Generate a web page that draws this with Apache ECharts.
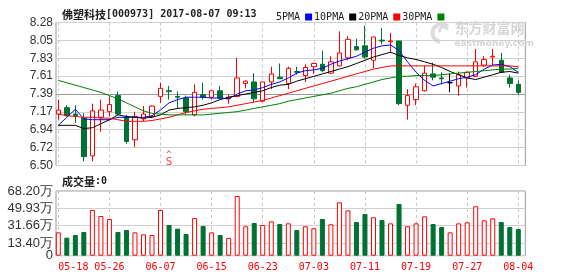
<!DOCTYPE html>
<html><head><meta charset="utf-8">
<script src="https://cdn.jsdelivr.net/npm/echarts@6/dist/echarts.min.js"></script>
<style>html,body{margin:0;padding:0;background:#fff}#c{width:578px;height:276px}</style>
</head><body><div id="c"></div>
<script>
// ---------------- data ----------------
const titleName = '佛塑科技';
const titleInfo = '[000973] 2017-08-07 09:13';
const volTitleName = '成交量';
const volTitleInfo = ':0';
const maNames = ['5PMA', '10PMA', '20PMA', '30PMA'];
const watermarkCn = '东方财富网';
const watermarkEn = 'eastmoney.com';

const dates = ['05-18','05-19','05-22','05-23','05-24','05-25','05-26','05-31','06-01','06-02',
  '06-05','06-06','06-07','06-08','06-09','06-12','06-13','06-14','06-15','06-16',
  '06-19','06-20','06-21','06-22','06-23','06-26','06-27','06-28','06-29','06-30',
  '07-03','07-04','07-05','07-06','07-07','07-10','07-11','07-12','07-13','07-14',
  '07-17','07-18','07-19','07-20','07-21','07-24','07-25','07-26','07-27','07-28',
  '07-31','08-01','08-02','08-03','08-04'];

const openArr = [7.14,7.22,7.14,7.09,6.62,7.10,7.17,7.37,7.10,6.82,
  7.08,7.11,7.36,7.43,7.36,7.34,7.13,7.38,7.35,7.43,
  7.33,7.36,7.52,7.54,7.30,7.54,7.60,7.52,7.67,7.62,
  7.73,7.76,7.65,7.74,7.84,7.98,7.99,7.81,8.06,8.04,
  8.05,7.25,7.32,7.43,7.64,7.59,7.53,7.49,7.59,7.61,
  7.75,7.85,7.81,7.59,7.51];
const closeArr = [7.19,7.12,7.12,6.61,7.18,7.19,7.26,7.14,6.80,7.11,
  7.14,7.24,7.46,7.42,7.35,7.17,7.41,7.35,7.43,7.34,
  7.35,7.59,7.55,7.33,7.54,7.64,7.58,7.71,7.66,7.72,
  7.77,7.68,7.79,7.90,8.07,7.94,7.85,8.10,8.05,8.05,
  7.27,7.37,7.48,7.65,7.60,7.58,7.53,7.63,7.66,7.79,
  7.82,7.86,7.66,7.52,7.41];
const lowArr = [7.07,7.11,7.03,6.55,6.55,6.92,7.11,7.13,6.77,6.73,
  7.05,7.09,7.28,7.32,7.21,7.13,7.11,7.32,7.32,7.32,
  7.27,7.35,7.46,7.29,7.29,7.45,7.58,7.45,7.63,7.54,
  7.64,7.66,7.64,7.73,7.81,7.93,7.83,7.71,8.01,7.90,
  7.25,7.07,7.25,7.42,7.56,7.51,7.41,7.37,7.47,7.60,
  7.73,7.75,7.65,7.47,7.38];
const highArr = [7.32,7.25,7.25,7.15,7.27,7.32,7.36,7.42,7.13,7.17,
  7.24,7.25,7.53,7.49,7.42,7.37,7.51,7.53,7.43,7.49,
  7.38,7.84,7.56,7.65,7.54,7.73,7.77,7.73,7.73,7.76,
  7.78,7.93,7.86,8.17,8.11,8.08,8.24,8.10,8.21,8.15,
  8.05,7.45,7.52,7.74,7.78,7.66,7.65,7.67,7.67,7.95,
  7.86,7.95,7.90,7.63,7.56];

// volume, unit 万
const volume = [24.6,19.0,21.8,25.0,48.2,41.8,38.7,25.0,27.1,24.6,
  22.5,21.8,48.2,32.4,28.5,22.9,39.7,31.3,24.6,21.8,
  18.7,62.9,31.0,34.5,32.4,36.2,33.4,34.1,27.1,31.0,
  28.9,38.7,33.1,56.3,47.8,35.5,44.0,40.5,37.6,34.1,
  54.5,31.0,34.1,41.5,33.4,30.2,24.6,34.1,35.2,52.1,
  37.3,39.4,35.5,30.2,28.1];

const ma5 = [7.00,7.10,7.20,7.08,7.07,7.07,7.07,7.10,7.10,7.10,
  7.10,7.12,7.19,7.28,7.32,7.35,7.35,7.35,7.34,7.34,
  7.33,7.39,7.43,7.44,7.47,7.51,7.54,7.59,7.65,7.68,
  7.69,7.71,7.76,7.80,7.83,7.86,7.91,7.96,7.99,8.00,
  7.93,7.79,7.66,7.56,7.49,7.52,7.55,7.58,7.60,7.63,
  7.70,7.75,7.76,7.73,7.66];
const ma10 = [7.00,7.00,7.00,6.96,6.97,7.02,7.07,7.13,7.11,7.10,
  7.09,7.10,7.13,7.19,7.21,7.22,7.23,7.25,7.28,7.32,
  7.35,7.37,7.39,7.41,7.43,7.47,7.50,7.51,7.55,7.58,
  7.61,7.64,7.67,7.70,7.73,7.77,7.81,7.85,7.88,7.91,
  7.87,7.84,7.82,7.79,7.76,7.72,7.67,7.63,7.59,7.57,
  7.60,7.63,7.66,7.67,7.65];
const ma20 = [7.14,7.12,7.11,7.10,7.10,7.09,7.09,7.07,7.05,7.05,
  7.05,7.06,7.08,7.10,7.13,7.16,7.18,7.20,7.21,7.22,
  7.23,7.25,7.27,7.29,7.31,7.34,7.37,7.40,7.43,7.46,
  7.49,7.52,7.55,7.58,7.61,7.64,7.67,7.70,7.72,7.74,
  7.74,7.74,7.74,7.74,7.74,7.74,7.74,7.74,7.74,7.74,
  7.74,7.74,7.74,7.74,7.73];
const ma30 = [7.56,7.53,7.50,7.47,7.44,7.41,7.37,7.33,7.28,7.23,
  7.18,7.15,7.14,7.13,7.13,7.13,7.13,7.13,7.14,7.15,
  7.16,7.17,7.19,7.21,7.23,7.25,7.27,7.30,7.32,7.34,
  7.36,7.38,7.40,7.43,7.46,7.48,7.51,7.54,7.57,7.59,
  7.61,7.61,7.62,7.62,7.62,7.63,7.64,7.65,7.66,7.67,
  7.68,7.69,7.70,7.70,7.71];

const priceMin = 6.50, priceMax = 8.28;
const priceTickLabels = ['6.50','6.72','6.94','7.17','7.39','7.61','7.83','8.05','8.28'];
const volMax = 68.20;
const volTickValues = [0, 13.40, 31.66, 49.93, 68.20];
const volTickLabels = ['0', '13.40万', '31.66万', '49.93万', '68.20万'];
const signalPoints = [[13, 6.575]];
const signalText = 'S';

// ---------------- style ----------------
const RED = '#ff0000', GREEN = '#007033';
const MA_COLORS = ['#0000ff', '#000000', '#ff0000', '#008000'];
const MONO = 'DejaVu Sans Mono';
const CJK = 'Noto Sans CJK SC';
const priceInterval = (priceMax - priceMin) / (priceTickLabels.length - 1);

const frameL = 56, frameW = 469.3;
const plotL = 58.3, plotW = 460;
const pTop = 22.5, pH = 143;
const vTop = 191, vH = 64.7;

const splitColors = priceTickLabels.map((t) => t === '7.39' ? '#999' : '#d0d0d0');

const chart = echarts.init(document.getElementById('c'), null, {renderer: 'canvas'});
const maSeries = [ma5, ma10, ma20, ma30].map((arr, k) => ({
  type: 'line', name: maNames[k], xAxisIndex: 1, yAxisIndex: 1,
  data: arr, symbol: 'none', z: 4, silent: true,
  itemStyle: {color: MA_COLORS[k]},
  lineStyle: {color: MA_COLORS[k], width: 1}
}));

const watermark = {
  id: 'wm', type: 'group', left: 430, top: 21, z: 0, silent: true,
  children: [
    {type: 'arc', shape: {cx: 11, cy: 12, r: 9, startAngle: Math.PI * 0.55, endAngle: Math.PI * 1.75},
     style: {stroke: '#dcdcdc', lineWidth: 4, fill: null}},
    {type: 'arc', shape: {cx: 13, cy: 10, r: 4, startAngle: Math.PI * 0.9, endAngle: Math.PI * 1.9},
     style: {stroke: '#dcdcdc', lineWidth: 3, fill: null}},
    {type: 'text', x: 24, y: 0,
     style: {text: watermarkCn, fill: '#d6d6d6', fontSize: 14, fontWeight: 'bold', fontFamily: CJK}},
    {type: 'text', x: 24, y: 18,
     style: {text: watermarkEn, fill: '#d6d6d6', fontSize: 9, fontWeight: 'bold', fontFamily: 'DejaVu Sans'}}
  ]
};

chart.setOption({
  animation: false,
  title: [
    {left: 57, top: 4, text: '{c|' + titleName + '}{a|' + titleInfo + '}',
     textStyle: {rich: {c: {fontFamily: CJK, fontSize: 11, color: '#222'}, a: {fontFamily: MONO, fontSize: 10, color: '#222'}}}},
    {left: 57, top: 171, text: '{c|' + volTitleName + '}{a|' + volTitleInfo + '}',
     textStyle: {rich: {c: {fontFamily: CJK, fontSize: 11, color: '#222'}, a: {fontFamily: MONO, fontSize: 10, color: '#222'}}}}
  ],
  legend: {
    data: maNames, left: 271, top: 7, align: 'right', orient: 'horizontal',
    itemWidth: 7, itemHeight: 7, itemGap: 2, icon: 'rect', selectedMode: false,
    textStyle: {fontFamily: MONO, fontSize: 10, color: '#222'}
  },
  graphic: [watermark],
  grid: [
    {left: frameL, top: pTop, width: frameW, height: pH, show: true, borderColor: '#999', borderWidth: 1, backgroundColor: 'transparent'},
    {left: plotL, top: pTop, width: plotW, height: pH},
    {left: frameL, top: vTop, width: frameW, height: vH, show: true, borderColor: '#999', borderWidth: 1, backgroundColor: 'transparent'},
    {left: plotL, top: vTop, width: plotW, height: vH}
  ],
  xAxis: [
    {gridIndex: 0, type: 'value', min: 0, max: 1, show: false},
    {gridIndex: 1, type: 'category', data: dates, boundaryGap: false,
     axisLine: {show: false}, axisTick: {show: false}, axisLabel: {show: false},
     splitLine: {show: true, interval: 5, lineStyle: {color: '#c8c8c8', type: [3, 3], width: 1}}},
    {gridIndex: 2, type: 'value', min: 0, max: 1, show: false},
    {gridIndex: 3, type: 'category', data: dates, boundaryGap: false,
     axisLine: {show: false}, axisTick: {show: false},
     axisLabel: {show: true, interval: 5, color: RED, fontFamily: MONO, fontSize: 10, lineHeight: 10, margin: 7, alignMinLabel: 'left'},
     splitLine: {show: true, interval: 5, lineStyle: {color: '#c8c8c8', type: [3, 3], width: 1}}}
  ],
  yAxis: [
    {gridIndex: 0, type: 'value', min: priceMin, max: priceMax, interval: priceInterval,
     axisLine: {show: false}, axisTick: {show: false},
     axisLabel: {color: '#333', fontFamily: 'Liberation Sans', fontSize: 12, margin: 3,
       formatter: (v) => priceTickLabels[Math.round((v - priceMin) / priceInterval)] || ''},
     splitLine: {show: true, lineStyle: {color: splitColors, width: 1}}},
    {gridIndex: 1, type: 'value', min: priceMin, max: priceMax, show: false},
    {gridIndex: 2, type: 'value', min: 0, max: volMax,
     axisLine: {show: false},
     axisTick: {show: false, customValues: volTickValues},
     axisLabel: {show: false},
     splitLine: {show: true, lineStyle: {color: '#d0d0d0', width: 1}}},
    {gridIndex: 3, type: 'value', min: 0, max: volMax, show: false}
  ],
  series: [
    {type: 'candlestick', xAxisIndex: 1, yAxisIndex: 1, barWidth: 5, clip: false, z: 3, silent: true,
     data: dates.map((d, i) => [openArr[i], closeArr[i], lowArr[i], highArr[i]]),
     itemStyle: {color: '#ffffff', color0: GREEN, borderColor: RED, borderColor0: GREEN, borderColorDoji: '#000', borderWidth: 1}},
    ...maSeries,
    {type: 'scatter', xAxisIndex: 1, yAxisIndex: 1, data: signalPoints, symbol: 'rect', symbolSize: 1, silent: true, z: 5,
     itemStyle: {color: 'rgba(0,0,0,0)'}, clip: false,
     label: {show: true, position: 'inside', formatter: '{a|^}\n{b|' + signalText + '}',
       rich: {a: {fontFamily: MONO, fontSize: 9, lineHeight: 6, color: RED, align: 'center'},
              b: {fontFamily: MONO, fontSize: 11, lineHeight: 9, color: RED, align: 'center'}}}},
    {type: 'bar', xAxisIndex: 3, yAxisIndex: 3, barWidth: 5, clip: false, silent: true,
     data: volume.map((v, i) => ({value: v, itemStyle: closeArr[i] >= openArr[i]
        ? {color: '#ffffff', borderColor: RED, borderWidth: 1}
        : {color: GREEN, borderColor: GREEN, borderWidth: 1}}))}
  ]
});

// volume axis tick labels, positioned through the volume axis scale
const volLabelEls = volTickValues.map((v, k) => {
  const p = chart.convertToPixel({xAxisIndex: 2, yAxisIndex: 2}, [0, v]);
  return {type: 'text', id: 'vl' + k, x: p[0] - 3, y: p[1], z: 100, silent: true,
    style: {text: volTickLabels[k], fill: '#333', fontFamily: 'Liberation Sans', fontSize: 13,
      align: 'right', verticalAlign: 'middle'}};
});
chart.setOption({graphic: [watermark].concat(volLabelEls)});
</script></body></html>
